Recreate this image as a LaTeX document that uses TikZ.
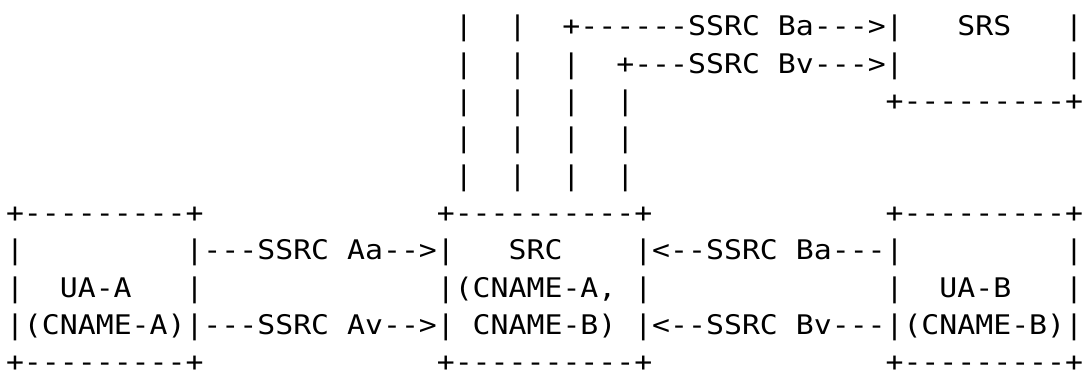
\documentclass[tikz,border=0pt]{standalone}
\usepackage{fontspec}
\setmonofont{DejaVu Sans Mono}[FakeStretch=1.105]
\newcommand{\seg}[4]{\node[txt] (#1) at ({6+#2*17.95},{373-36-(#3-1)*37.3}) {#4};}
\begin{document}
\begin{tikzpicture}[x=1pt,y=1pt,
  txt/.style={anchor=base west, inner sep=0pt, outer sep=0pt, text depth=0pt,
    font=\ttfamily\fontsize{27}{32}\selectfont, text=black}]
\useasboundingbox (0,0) rectangle (1085,373);
% vertical taps from SRC up to SRS
\foreach \r in {1,...,5}{
  \seg{tapA\r}{25}{\r}{|}
  \seg{tapB\r}{28}{\r}{|}
}
\foreach \r in {2,...,5}{\seg{tapC\r}{31}{\r}{|}}
\foreach \r in {3,4,5}{\seg{tapD\r}{34}{\r}{|}}
% forwarded streams to SRS
\seg{fwdBa}{31}{1}{+------SSRC Ba--->}
\seg{fwdBv}{34}{2}{+---SSRC Bv--->}
% SRS box
\seg{srsL1}{49}{1}{|}
\seg{srs}{53}{1}{SRS}
\seg{srsR1}{59}{1}{|}
\seg{srsL2}{49}{2}{|}
\seg{srsR2}{59}{2}{|}
\seg{srsBot}{49}{3}{+---------+}
% box tops
\seg{uaATop}{0}{6}{+---------+}
\seg{srcTop}{24}{6}{+----------+}
\seg{uaBTop}{49}{6}{+---------+}
% row 7
\seg{uaAL7}{0}{7}{|}
\seg{uaAR7}{10}{7}{|}
\seg{arrAa}{11}{7}{---SSRC Aa-->}
\seg{srcL7}{24}{7}{|}
\seg{src}{28}{7}{SRC}
\seg{srcR7}{35}{7}{|}
\seg{arrBa}{36}{7}{<--SSRC Ba---}
\seg{uaBL7}{49}{7}{|}
\seg{uaBR7}{59}{7}{|}
% row 8
\seg{uaAL8}{0}{8}{|}
\seg{uaA}{3}{8}{UA-A}
\seg{uaAR8}{10}{8}{|}
\seg{srcL8}{24}{8}{|}
\seg{srcCA}{25}{8}{(CNAME-A,}
\seg{srcR8}{35}{8}{|}
\seg{uaBL8}{49}{8}{|}
\seg{uaB}{52}{8}{UA-B}
\seg{uaBR8}{59}{8}{|}
% row 9
\seg{uaAL9}{0}{9}{|}
\seg{uaACN}{1}{9}{(CNAME-A)}
\seg{uaAR9}{10}{9}{|}
\seg{arrAv}{11}{9}{---SSRC Av-->}
\seg{srcL9}{24}{9}{|}
\seg{srcCB}{26}{9}{CNAME-B)}
\seg{srcR9}{35}{9}{|}
\seg{arrBv}{36}{9}{<--SSRC Bv---}
\seg{uaBL9}{49}{9}{|}
\seg{uaBCN}{50}{9}{(CNAME-B)}
\seg{uaBR9}{59}{9}{|}
% box bottoms
\seg{uaABot}{0}{10}{+---------+}
\seg{srcBot}{24}{10}{+----------+}
\seg{uaBBot}{49}{10}{+---------+}
\end{tikzpicture}
\end{document}
